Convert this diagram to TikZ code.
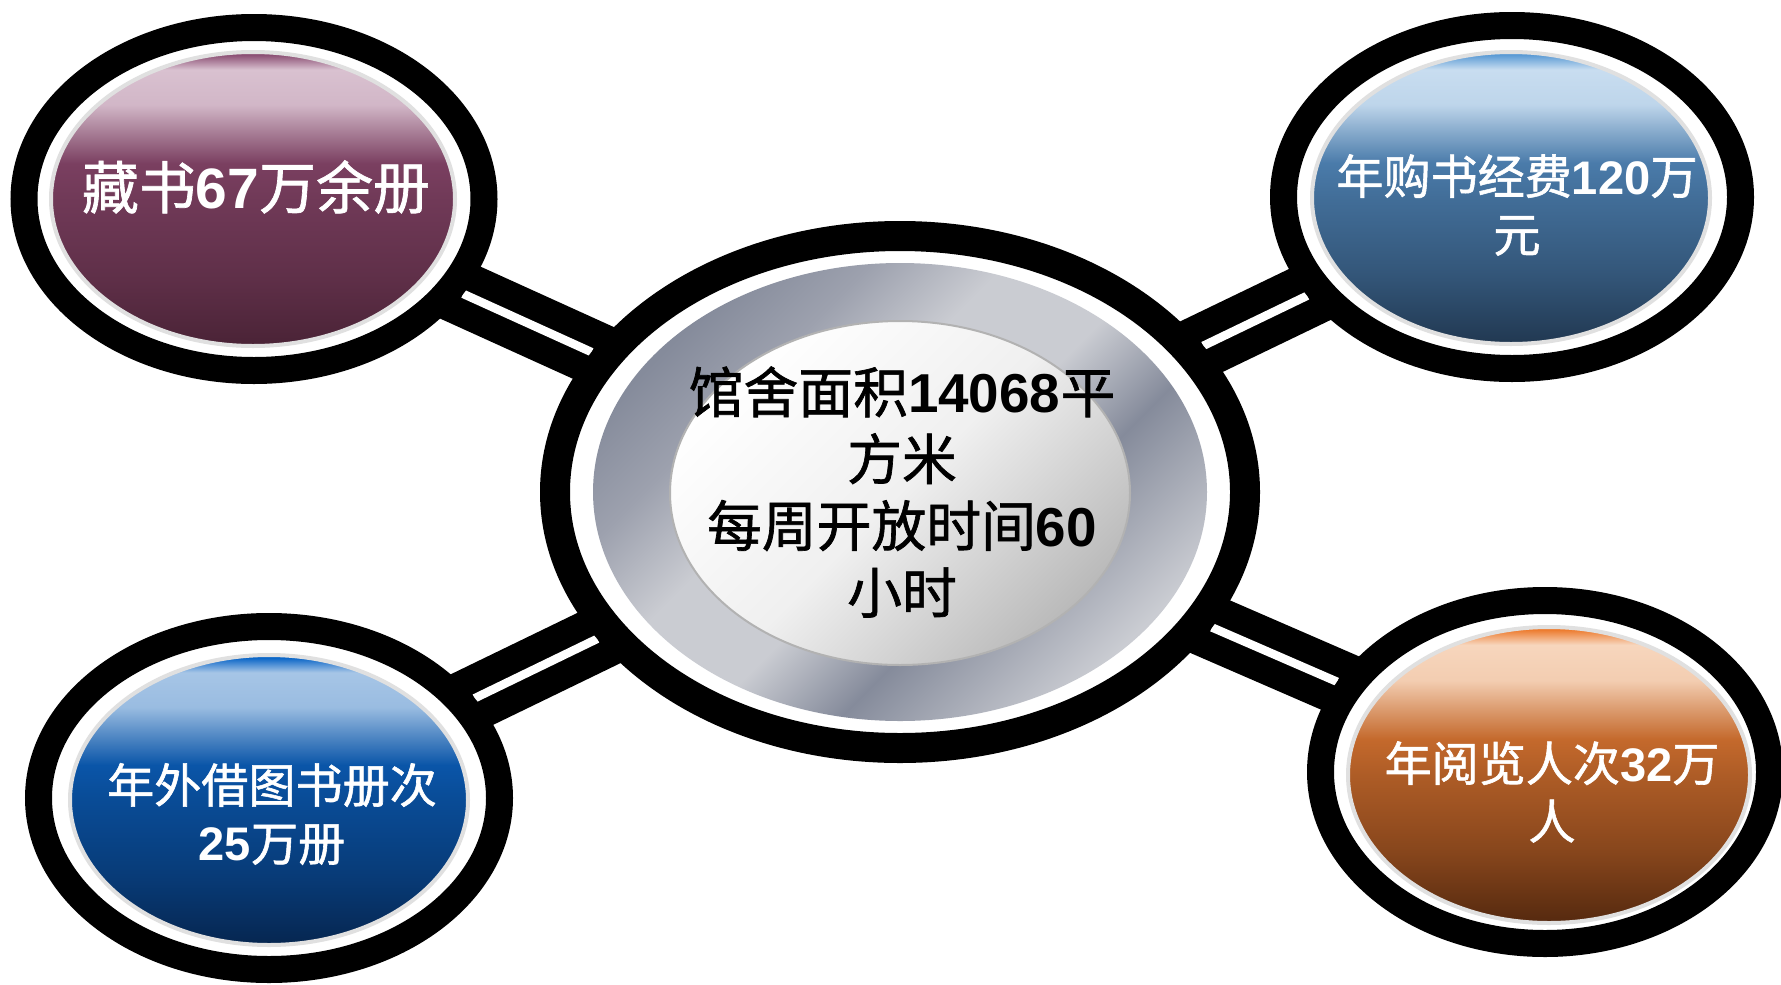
\documentclass[tikz,border=0pt]{standalone}
\usepackage{fontspec}
\newfontfamily\cjk{Noto Sans CJK SC}[FakeBold=1.2]
\newfontfamily\arialfont{Liberation Sans}
\usetikzlibrary{shapes.geometric,backgrounds}

\definecolor{tlLight}{HTML}{D9C1D0}
\definecolor{tlMid}{HTML}{7A3F60}
\definecolor{tlDark}{HTML}{4A2336}
\definecolor{tlRim}{HTML}{8C5075}
\definecolor{trLight}{HTML}{C8DDF0}
\definecolor{trMid}{HTML}{4A7BAA}
\definecolor{trDark}{HTML}{213851}
\definecolor{trRim}{HTML}{5B9BD5}
\definecolor{blLight}{HTML}{A6C5E6}
\definecolor{blMid}{HTML}{0A55A8}
\definecolor{blDark}{HTML}{062650}
\definecolor{blRim}{HTML}{0B66C8}
\definecolor{brLight}{HTML}{F7D6BD}
\definecolor{brMid}{HTML}{C4692C}
\definecolor{brDark}{HTML}{55290F}
\definecolor{brRim}{HTML}{ED7D31}
\definecolor{steelDark}{HTML}{858B9B}
\definecolor{steelMid}{HTML}{9DA1AE}
\definecolor{steelLight}{HTML}{CACCD2}

\newcommand\shuzi[1]{{\arialfont\bfseries #1}}

% glassy fill: light top, saturated middle, dark bottom
\newcommand\glassshading[5]{%
  \pgfdeclareverticalshading{#1}{100bp}{%
    color(0bp)=(#4); color(25bp)=(#4); color(37bp)=(#4!55!#3);
    color(50bp)=(#3!80!#4); color(56bp)=(#3); color(61bp)=(#2!45!#3);
    color(66bp)=(#2!92!#3); color(72bp)=(#2); color(74.5bp)=(#5); color(100bp)=(#5)}}
\glassshading{glassTL}{tlLight}{tlMid}{tlDark}{tlRim}
\glassshading{glassTR}{trLight}{trMid}{trDark}{trRim}
\glassshading{glassBL}{blLight}{blMid}{blDark}{blRim}
\glassshading{glassBR}{brLight}{brMid}{brDark}{brRim}

\pgfdeclarehorizontalshading{steel}{100bp}{%
  color(0bp)=(steelDark); color(25bp)=(steelDark); color(33bp)=(steelMid);
  color(42bp)=(steelLight); color(52bp)=(steelLight); color(61bp)=(steelDark);
  color(75bp)=(steelLight); color(100bp)=(steelLight)}

\begin{document}
\begin{tikzpicture}
  \tikzset{
    ring/.style={ellipse, draw=black, fill=white, line width=0.27cm, inner sep=0pt,
      minimum width=4.6cm, minimum height=3.43cm},
    glass/.style={ellipse, shade, shading=#1, draw=black!12, line width=0.04cm,
      inner sep=0pt, minimum width=4cm, minimum height=2.93cm},
    whitetxt/.style={font=\cjk\fontsize{13.4}{16.5}\selectfont, text=white,
      align=center, inner sep=0pt},
    bar/.style={line width=0.64cm, black},
    stripe/.style={line width=0.085cm, white},
  }
  \useasboundingbox (0,0) rectangle (17.81,-9.84);

  % centre
  \node[ring, minimum width=6.9cm, minimum height=5.12cm, line width=0.3cm] (c) at (9.0,-4.92) {};
  \node[ellipse, shade, shading=steel, shading angle=-45, inner sep=0pt,
    minimum width=6.14cm, minimum height=4.58cm] (c-steel) at (c) {};
  \node[ellipse, top color=white, bottom color=black!27, middle color=black!6,
    shading angle=45, draw=black!30, line width=0.02cm, inner sep=0pt,
    minimum width=4.6cm, minimum height=3.44cm] (c-inner) at (9.0,-4.93) {};
  \node[font=\cjk\fontsize{15.6}{19}\selectfont, align=center, inner sep=0pt] (c-text) at (9.02,-4.92)
    {馆舍面积\shuzi{14068}平\\方米\\每周开放时间\shuzi{60}\\小时};

  % satellites
  \node[ring] (tl) at (2.54,-1.99) {};
  \node[glass=glassTL, minimum width=4.04cm, minimum height=2.94cm] (tl-glass) at (2.53,-1.99) {};
  \node[whitetxt, font=\cjk\fontsize{16.2}{19}\selectfont] (tl-text) at (2.56,-1.87) {藏书\shuzi{67}万余册};

  \node[ring, minimum width=4.57cm] (tr) at (15.12,-1.97) {};
  \node[glass=glassTR, minimum width=3.98cm, minimum height=2.92cm] (tr-glass) at (15.11,-1.98) {};
  \node[whitetxt] (tr-text) at (15.17,-2.05) {年购书经费\shuzi{120}万\\元};

  \node[ring, minimum width=4.61cm] (bl) at (2.69,-7.98) {};
  \node[glass=glassBL, minimum width=3.98cm, minimum height=2.90cm] (bl-glass) at (2.69,-8.0) {};
  \node[whitetxt] (bl-text) at (2.72,-8.14) {年外借图书册次\\\shuzi{25}万册};

  \node[ring, minimum width=4.49cm] (br) at (15.45,-7.72) {};
  \node[glass=glassBR, minimum width=4.02cm, minimum height=2.96cm] (br-glass) at (15.49,-7.75) {};
  \node[whitetxt] (br-text) at (15.52,-7.92) {年阅览人次\shuzi{32}万\\人};

  \begin{pgfonlayer}{background}
    \foreach \s in {tl,tr,bl,br} {
      \draw[bar] (c.center) -- (\s.center);
      \draw[stripe] (c) -- (\s);
    }
  \end{pgfonlayer}
\end{tikzpicture}
\end{document}
